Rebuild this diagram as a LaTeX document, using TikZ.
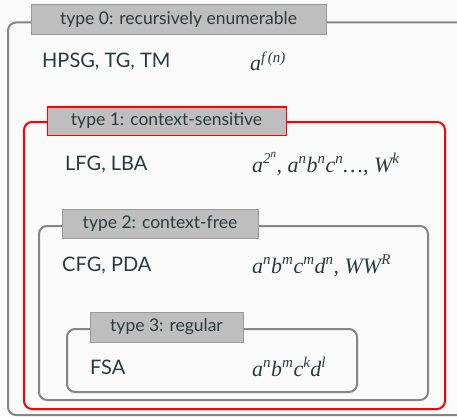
\documentclass[tikz,border=0pt]{standalone}
\usepackage{fontspec}
\setmainfont{Lato}
\newfontfamily\lingserif{Liberation Serif}
\definecolor{ink}{HTML}{2B3B3B}
\definecolor{paper}{HTML}{FAFAFA}
\definecolor{frameg}{HTML}{858585}
\definecolor{tagfill}{HTML}{BEBEBE}
\definecolor{tagline}{HTML}{999999}
\definecolor{hot}{HTML}{FF0000}
% italic formula text with raised exponents
\newcommand\lang[1]{{\lingserif\itshape\fontsize{22}{24}\selectfont #1}}
\newcommand\hi[1]{\raisebox{0.4em}{\fontsize{15}{16}\selectfont #1\kern0.5pt}}
\newcommand\hii[1]{\raisebox{0.4em}{\fontsize{11}{12}\selectfont #1}}
\tikzset{
  region/.style={draw=frameg, line width=2pt, rounded corners=8pt},
  hotregion/.style={draw=hot, line width=2pt, rounded corners=8pt},
  tag/.style={draw=tagline, fill=tagfill, line width=1pt, inner sep=0pt, text=ink,
    font=\fontsize{17.5}{20}\selectfont},
  hottag/.style={tag, draw=hot},
  row/.style={anchor=base west, inner sep=0pt, text=ink, font=\fontsize{20}{22}\selectfont},
}
\begin{document}
\begin{tikzpicture}[x=1pt, y=-1pt]
\fill[paper] (0,0) rectangle (457,417);
\useasboundingbox (0,0) rectangle (457,417);
% nested language classes
\draw[region]    (8,22.5)  rectangle (470,415);
\draw[hotregion] (24,122)  rectangle (445,409);
\draw[region]    (39,226)  rectangle (428,400);
\draw[region]    (67,329)  rectangle (357,392);
% class titles
\node[tag, minimum width=295pt, minimum height=30pt]    (t0) at (178.5,20)  {type 0: recursively enumerable};
\node[hottag, minimum width=239pt, minimum height=28pt] (t1) at (166.5,121)  {type 1: context-sensitive};
\node[tag, minimum width=196pt, minimum height=29pt]    (t2) at (160,223.5) {type 2: context-free};
\node[tag, minimum width=153pt, minimum height=30pt]    (t3) at (166.5,327) {type 3: regular};
% formalisms and example languages
\node[row] (f0) at (42,68)  {HPSG, TG, TM};
\node[row] (l0) at (250,71) {\lang{a\hi{f\,(n)}}};
\node[row] (f1) at (65,170) {LFG, LBA};
\node[row] (l1) at (252,172) {\lang{a\hi{2\hii{n}}, a\hi{n}b\hi{n}c\hi{n}\ldots, W\hi{k}}};
\node[row] (f2) at (62,271) {CFG, PDA};
\node[row] (l2) at (252,273) {\lang{a\hi{n}b\hi{m}c\hi{m}d\hi{n}, WW\hi{R}}};
\node[row] (f3) at (90,374) {FSA};
\node[row] (l3) at (252,376) {\lang{a\hi{n}b\hi{m}c\hi{k}d\hi{l}}};
\end{tikzpicture}
\end{document}
